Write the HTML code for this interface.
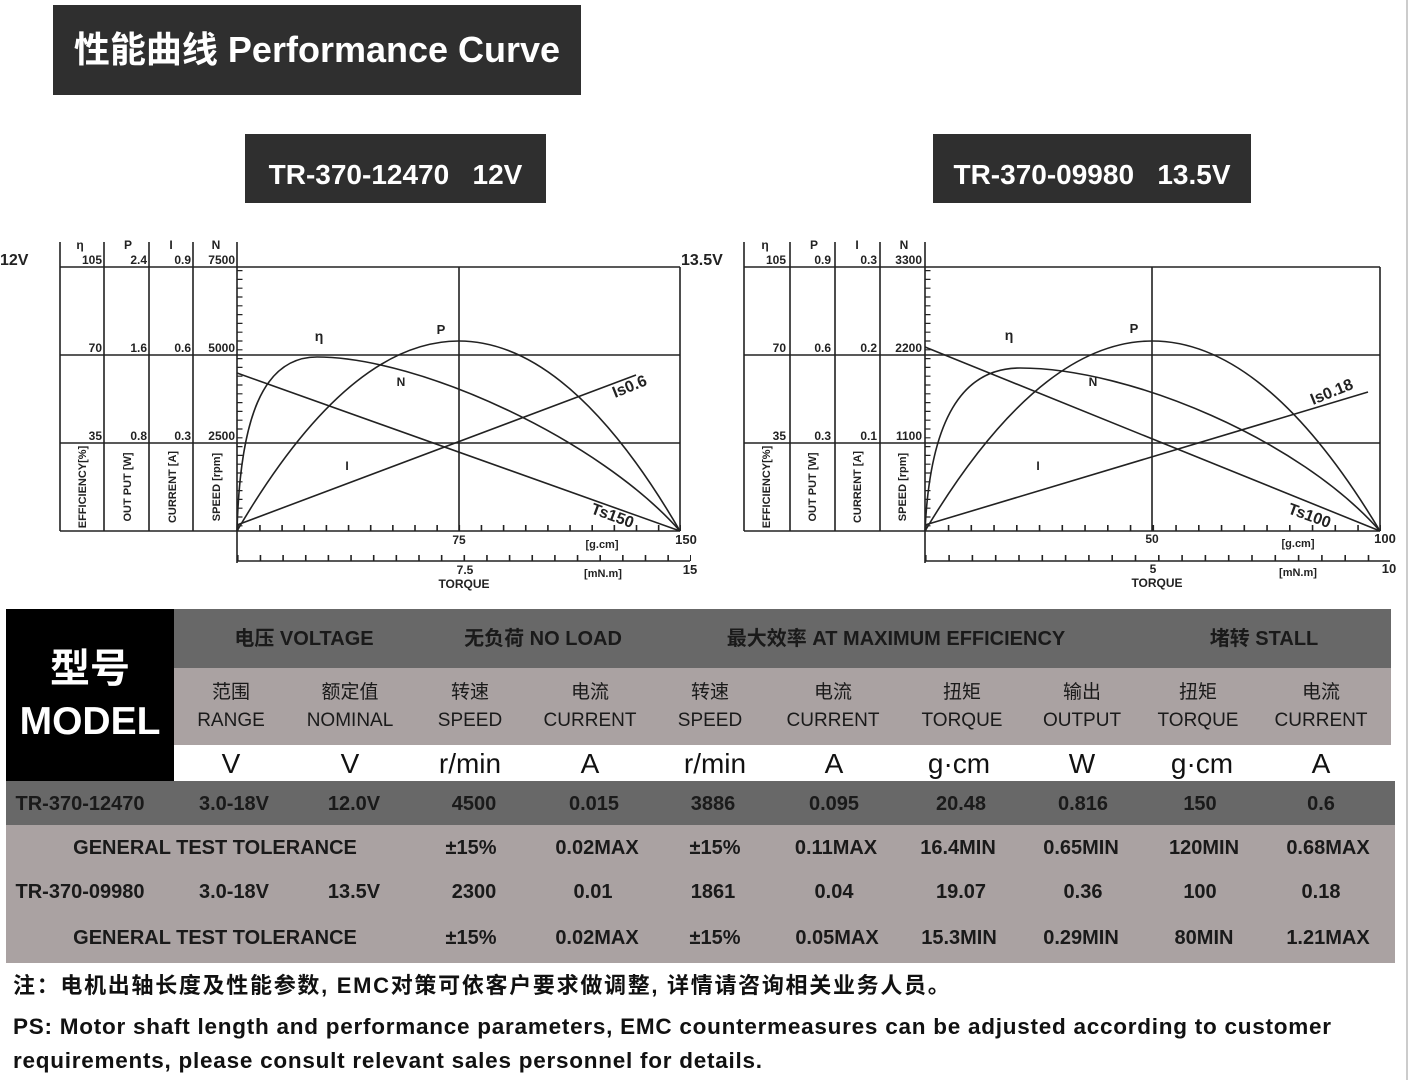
<!DOCTYPE html>
<html><head><meta charset="utf-8">
<style>
*{margin:0;padding:0;box-sizing:border-box}
body{width:1409px;height:1080px;background:#fff;position:relative;overflow:hidden;font-family:"Liberation Sans","Noto Sans CJK SC",sans-serif}
.a{position:absolute}
.box{background:#2f2f2f;color:#fff;font-weight:bold;display:flex;align-items:center;justify-content:center}
.t{position:absolute;transform:translateX(-50%);white-space:nowrap;font-family:"Liberation Sans Narrow","Liberation Sans","Noto Sans CJK SC",sans-serif}
.b{font-weight:bold;color:#1a1a1a;font-size:20px}
.h{font-size:19px;color:#1a1a1a;text-align:center;line-height:28px}
.u{font-size:28px;color:#111}
</style></head><body>
<div class="a box" style="left:53px;top:5px;width:528px;height:90px;font-size:36px;padding-bottom:6px">性能曲线 Performance Curve</div>
<div class="a box" style="left:245px;top:134px;width:301px;height:69px;font-size:28px;padding-top:12px">TR-370-12470&nbsp;&nbsp;&nbsp;12V</div>
<div class="a box" style="left:933px;top:134px;width:318px;height:69px;font-size:28px;padding-top:12px">TR-370-09980&nbsp;&nbsp;&nbsp;13.5V</div>

<svg class="a" style="left:0;top:0" width="1409" height="600" font-family="Liberation Sans,sans-serif" font-weight="bold">
<g stroke="#222" stroke-width="1.6" fill="none">
<path d="M60,242V531M104,242V531M149,242V531M193,242V531M237,242V563M60,267H680M60,355H680M60,443H680M60,531H680M680,267V531M459,267V531M237,561H690"/>
<line x1="240" y1="270" x2="240" y2="531" stroke-width="5" stroke-dasharray="1.2 7.6"/>
<line x1="237" y1="528" x2="681" y2="528" stroke-width="6" stroke-dasharray="1.6 20.55"/>
<line x1="237" y1="558" x2="691" y2="558" stroke-width="6" stroke-dasharray="1.6 21.05"/>
<path d="M237,531C240,420 262,357 317,357C420,357 600,440 680,531"/>
<path d="M237,531Q459,151 680,531"/>
<path d="M237,373L680,531"/>
<path d="M237,525L636,375"/>
<path d="M744,242V531M790,242V531M835,242V531M880,242V531M925,242V563M744,267H1380M744,355H1380M744,443H1380M744,531H1380M1380,267V531M1152,267V531M925,561H1390"/>
<line x1="928" y1="270" x2="928" y2="531" stroke-width="5" stroke-dasharray="1.2 7.6"/>
<line x1="925" y1="528" x2="1381" y2="528" stroke-width="6" stroke-dasharray="1.6 21.15"/>
<line x1="925" y1="558" x2="1391" y2="558" stroke-width="6" stroke-dasharray="1.6 21.7"/>
<path d="M925,531C930,420 962,368 1020,368C1130,368 1300,440 1380,531"/>
<path d="M925,531Q1152,151 1380,531"/>
<path d="M925,347L1380,531"/>
<path d="M925,525L1368,392"/>
</g>
<g font-size="12" fill="#222" text-anchor="end">
<text x="102" y="264">105</text><text x="147" y="264">2.4</text><text x="191" y="264">0.9</text><text x="235" y="264">7500</text>
<text x="102" y="352">70</text><text x="147" y="352">1.6</text><text x="191" y="352">0.6</text><text x="235" y="352">5000</text>
<text x="102" y="440">35</text><text x="147" y="440">0.8</text><text x="191" y="440">0.3</text><text x="235" y="440">2500</text>
<text x="786" y="264">105</text><text x="831" y="264">0.9</text><text x="877" y="264">0.3</text><text x="922" y="264">3300</text>
<text x="786" y="352">70</text><text x="831" y="352">0.6</text><text x="877" y="352">0.2</text><text x="922" y="352">2200</text>
<text x="786" y="440">35</text><text x="831" y="440">0.3</text><text x="877" y="440">0.1</text><text x="922" y="440">1100</text>
</g>
<g font-size="12" fill="#222" text-anchor="middle">
<text x="80" y="249">η</text><text x="128" y="249">P</text><text x="171" y="249">I</text><text x="216" y="249">N</text>
<text x="765" y="249">η</text><text x="814" y="249">P</text><text x="857" y="249">I</text><text x="904" y="249">N</text>
<text x="319" y="341" font-size="14">η</text><text x="441" y="334" font-size="13">P</text><text x="401" y="386">N</text><text x="347" y="470">I</text>
<text x="1009" y="340" font-size="14">η</text><text x="1134" y="333" font-size="13">P</text><text x="1093" y="386">N</text><text x="1038" y="470">I</text>
<text x="459" y="544" font-size="12">75</text><text x="686" y="544" font-size="13">150</text><text x="602" y="548" font-size="11">[g.cm]</text>
<text x="465" y="574" font-size="12">7.5</text><text x="690" y="574" font-size="13">15</text><text x="603" y="577" font-size="11">[mN.m]</text><text x="464" y="588" font-size="12">TORQUE</text>
<text x="1152" y="543" font-size="12">50</text><text x="1385" y="543" font-size="13">100</text><text x="1298" y="547" font-size="11">[g.cm]</text>
<text x="1153" y="573" font-size="12">5</text><text x="1389" y="573" font-size="13">10</text><text x="1298" y="576" font-size="11">[mN.m]</text><text x="1157" y="587" font-size="12">TORQUE</text>
</g>
<g font-size="16" fill="#222">
<text x="615" y="398" transform="rotate(-22 615 398)">Is0.6</text>
<text x="590" y="513" transform="rotate(20 590 513)">Ts150</text>
<text x="1313" y="405" transform="rotate(-22 1313 405)">Is0.18</text>
<text x="1287" y="513" transform="rotate(20 1287 513)">Ts100</text>
<text x="0" y="265" font-size="16">12V</text>
<text x="681" y="265" font-size="16">13.5V</text>
</g>
<g font-size="11" fill="#222" text-anchor="middle">
<text transform="translate(86,487) rotate(-90)">EFFICIENCY[%]</text>
<text transform="translate(131,487) rotate(-90)">OUT PUT [W]</text>
<text transform="translate(176,487) rotate(-90)">CURRENT [A]</text>
<text transform="translate(220,487) rotate(-90)">SPEED [rpm]</text>
<text transform="translate(770,487) rotate(-90)">EFFICIENCY[%]</text>
<text transform="translate(816,487) rotate(-90)">OUT PUT [W]</text>
<text transform="translate(861,487) rotate(-90)">CURRENT [A]</text>
<text transform="translate(906,487) rotate(-90)">SPEED [rpm]</text>
</g>
</svg>

<div class="a" style="left:174px;top:609px;width:1217px;height:59px;background:#686868"></div>
<div class="a" style="left:174px;top:668px;width:1217px;height:77px;background:#aaa2a2"></div>
<div class="a" style="left:6px;top:609px;width:168px;height:172px;background:#000"></div>
<div class="a" style="left:6px;top:781px;width:1389px;height:44px;background:#686868"></div>
<div class="a" style="left:6px;top:825px;width:1389px;height:138px;background:#aaa2a2"></div>
<div class="a" style="left:1406px;top:0;width:2px;height:1080px;background:#ccc"></div>
<div class="t" style="left:90px;top:636px;color:#fff;font-weight:bold;font-size:40px;font-family:'Noto Sans CJK SC',sans-serif">型号</div>
<div class="t" style="left:90px;top:700px;color:#fff;font-weight:bold;font-size:39px">MODEL</div>
<div class="t b" style="left:304px;top:622px">电压 VOLTAGE</div>
<div class="t b" style="left:543px;top:622px">无负荷 NO LOAD</div>
<div class="t b" style="left:896px;top:622px">最大效率 AT MAXIMUM EFFICIENCY</div>
<div class="t b" style="left:1264px;top:622px">堵转 STALL</div>
<div class="t h" style="left:231px;top:679px">范围<br>RANGE</div>
<div class="t h" style="left:350px;top:679px">额定值<br>NOMINAL</div>
<div class="t h" style="left:470px;top:679px">转速<br>SPEED</div>
<div class="t h" style="left:590px;top:679px">电流<br>CURRENT</div>
<div class="t h" style="left:710px;top:679px">转速<br>SPEED</div>
<div class="t h" style="left:833px;top:679px">电流<br>CURRENT</div>
<div class="t h" style="left:962px;top:679px">扭矩<br>TORQUE</div>
<div class="t h" style="left:1082px;top:679px">输出<br>OUTPUT</div>
<div class="t h" style="left:1198px;top:679px">扭矩<br>TORQUE</div>
<div class="t h" style="left:1321px;top:679px">电流<br>CURRENT</div>
<div class="t u" style="left:231px;top:748px">V</div>
<div class="t u" style="left:350px;top:748px">V</div>
<div class="t u" style="left:470px;top:748px">r/min</div>
<div class="t u" style="left:590px;top:748px">A</div>
<div class="t u" style="left:715px;top:748px">r/min</div>
<div class="t u" style="left:834px;top:748px">A</div>
<div class="t u" style="left:959px;top:748px">g·cm</div>
<div class="t u" style="left:1082px;top:748px">W</div>
<div class="t u" style="left:1202px;top:748px">g·cm</div>
<div class="t u" style="left:1321px;top:748px">A</div>

<div class="t b" style="left:80px;top:793px">TR-370-12470</div>
<div class="t b" style="left:234px;top:793px">3.0-18V</div>
<div class="t b" style="left:354px;top:793px">12.0V</div>
<div class="t b" style="left:474px;top:793px">4500</div>
<div class="t b" style="left:594px;top:793px">0.015</div>
<div class="t b" style="left:713px;top:793px">3886</div>
<div class="t b" style="left:834px;top:793px">0.095</div>
<div class="t b" style="left:961px;top:793px">20.48</div>
<div class="t b" style="left:1083px;top:793px">0.816</div>
<div class="t b" style="left:1200px;top:793px">150</div>
<div class="t b" style="left:1321px;top:793px">0.6</div>

<div class="t b" style="left:215px;top:837px">GENERAL TEST TOLERANCE</div>
<div class="t b" style="left:471px;top:837px">±15%</div>
<div class="t b" style="left:597px;top:837px">0.02MAX</div>
<div class="t b" style="left:715px;top:837px">±15%</div>
<div class="t b" style="left:836px;top:837px">0.11MAX</div>
<div class="t b" style="left:958px;top:837px">16.4MIN</div>
<div class="t b" style="left:1081px;top:837px">0.65MIN</div>
<div class="t b" style="left:1204px;top:837px">120MIN</div>
<div class="t b" style="left:1328px;top:837px">0.68MAX</div>

<div class="t b" style="left:80px;top:881px">TR-370-09980</div>
<div class="t b" style="left:234px;top:881px">3.0-18V</div>
<div class="t b" style="left:354px;top:881px">13.5V</div>
<div class="t b" style="left:474px;top:881px">2300</div>
<div class="t b" style="left:593px;top:881px">0.01</div>
<div class="t b" style="left:713px;top:881px">1861</div>
<div class="t b" style="left:834px;top:881px">0.04</div>
<div class="t b" style="left:961px;top:881px">19.07</div>
<div class="t b" style="left:1083px;top:881px">0.36</div>
<div class="t b" style="left:1200px;top:881px">100</div>
<div class="t b" style="left:1321px;top:881px">0.18</div>

<div class="t b" style="left:215px;top:927px">GENERAL TEST TOLERANCE</div>
<div class="t b" style="left:471px;top:927px">±15%</div>
<div class="t b" style="left:597px;top:927px">0.02MAX</div>
<div class="t b" style="left:715px;top:927px">±15%</div>
<div class="t b" style="left:837px;top:927px">0.05MAX</div>
<div class="t b" style="left:959px;top:927px">15.3MIN</div>
<div class="t b" style="left:1081px;top:927px">0.29MIN</div>
<div class="t b" style="left:1204px;top:927px">80MIN</div>
<div class="t b" style="left:1328px;top:927px">1.21MAX</div>

<div class="a" style="left:13px;top:968px;font-size:22px;letter-spacing:1.7px;font-weight:bold;color:#111;white-space:nowrap">注：电机出轴长度及性能参数, EMC对策可依客户要求做调整, 详情请咨询相关业务人员。</div>
<div class="a" style="left:13px;top:1010px;font-size:22.5px;letter-spacing:0.75px;font-weight:bold;color:#111;white-space:nowrap;line-height:34px">PS: Motor shaft length and performance parameters, EMC countermeasures can be adjusted according to customer<br>requirements, please consult relevant sales personnel for details.</div>
</body></html>
